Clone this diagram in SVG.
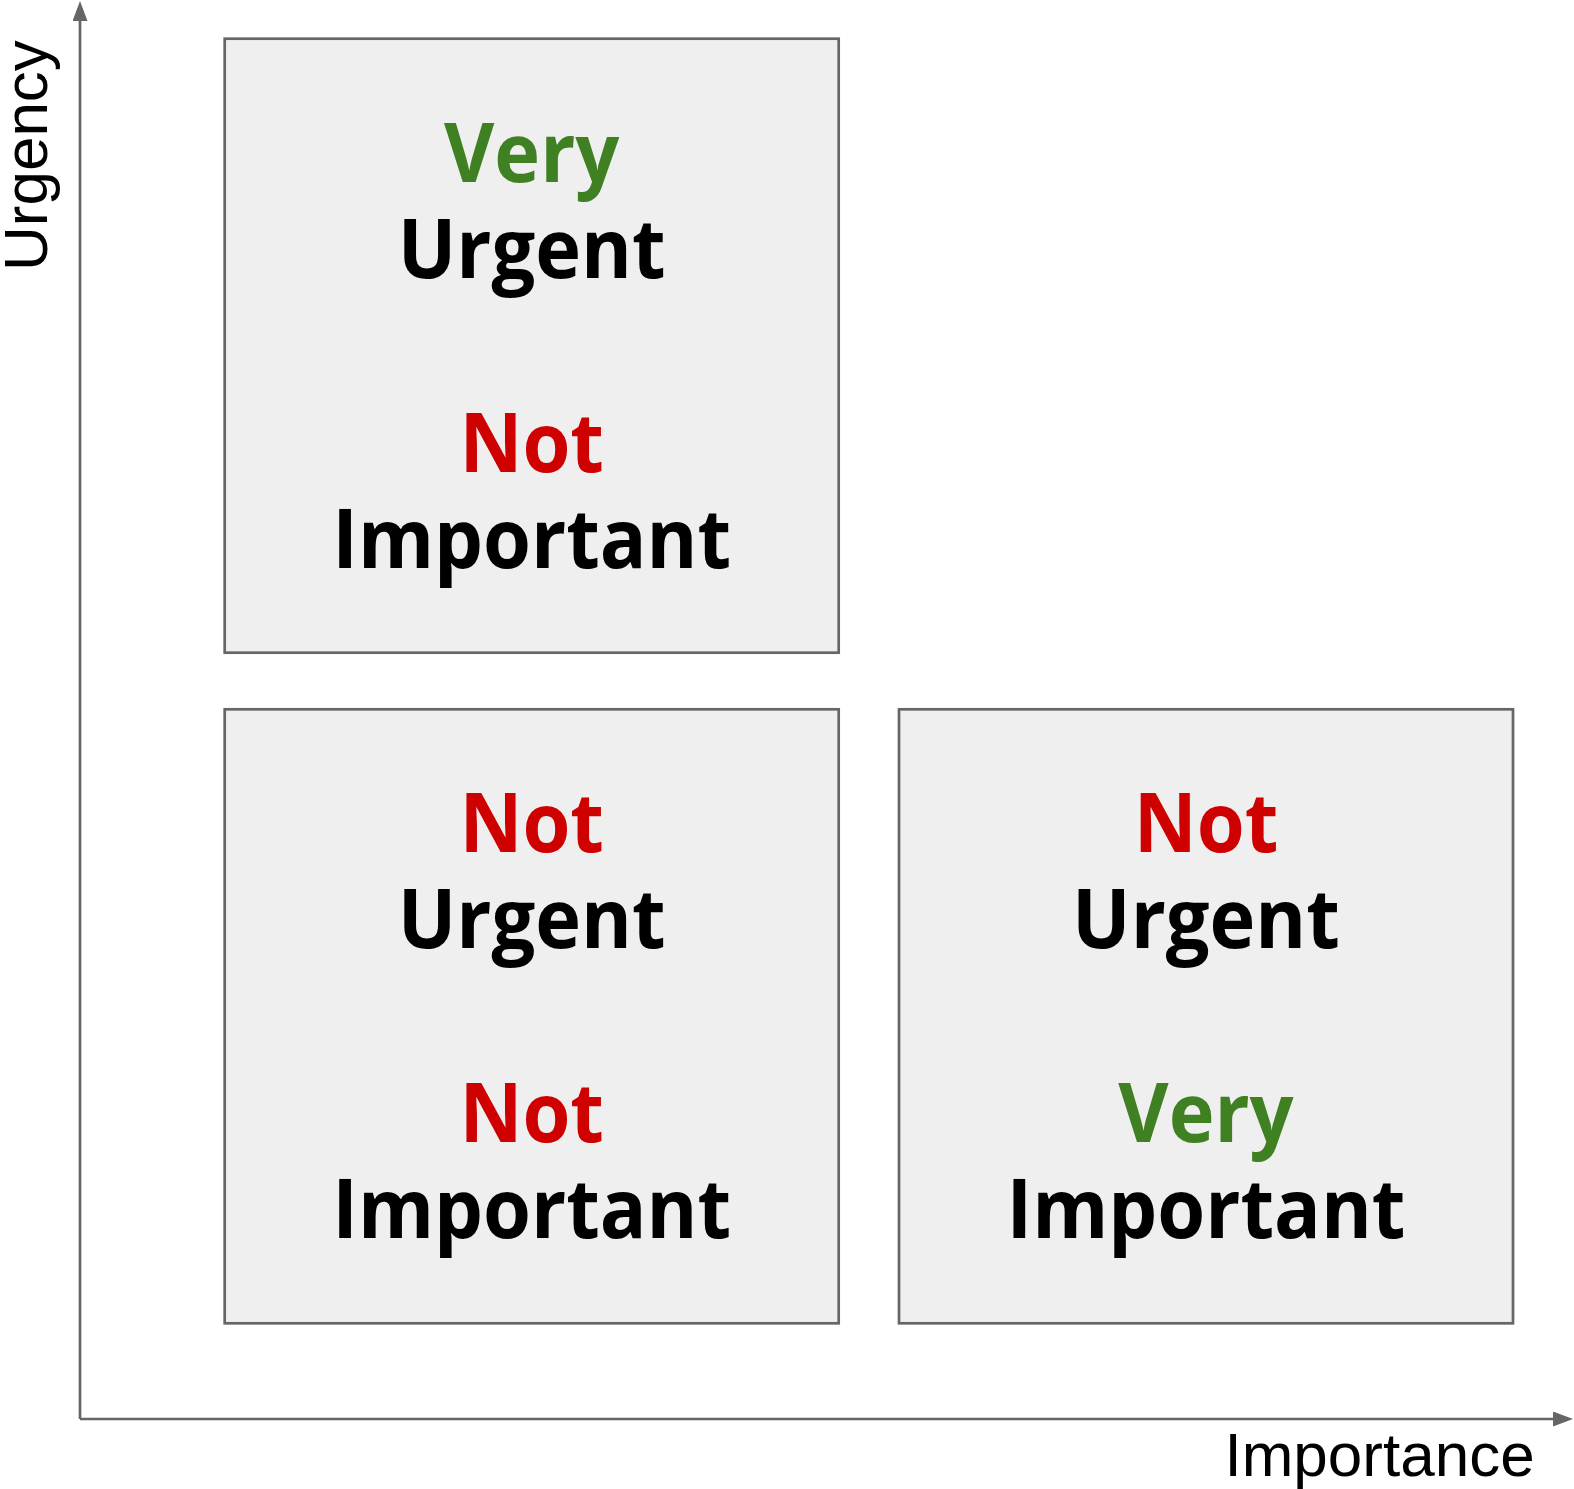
<svg xmlns="http://www.w3.org/2000/svg" width="1574" height="1489" viewBox="0 0 1574 1489">
  <style>
    .box { fill: #efefef; stroke: #666666; stroke-width: 2.7; }
    .axis { stroke: #666666; stroke-width: 2.7; fill: none; }
    .label { font-family: "Open Sans", "Noto Sans", sans-serif; font-weight: 700; font-size: 82px; text-anchor: middle; }
    .very { fill: #3f8022; }
    .not { fill: #cf0000; }
    .word { fill: #000000; }
    .axis-title { font-family: "Liberation Sans", Arial, sans-serif; font-size: 62px; fill: #000000; }
  </style>
  <defs>
    <marker id="arrow" markerUnits="userSpaceOnUse" markerWidth="20" markerHeight="15" refX="0" refY="7.5" orient="auto">
      <path d="M0,0 L20,7.5 L0,15 Z" fill="#666666"/>
    </marker>
  </defs>

  <rect width="1574" height="1489" fill="#ffffff"/>

  <!-- axes -->
  <g id="connectors">
    <line class="axis" x1="80" y1="1419" x2="80" y2="21" marker-end="url(#arrow)"/>
    <line class="axis" x1="80" y1="1419" x2="1553" y2="1419" marker-end="url(#arrow)"/>
  </g>

  <text id="urgency-axis" class="axis-title" transform="translate(46.5,271) rotate(-90)">Urgency</text>
  <text id="importance-axis" class="axis-title" x="1224.5" y="1476">Importance</text>

  <!-- quadrant: very urgent, not important -->
  <g id="urgent-not-important">
    <rect class="box" x="224.7" y="38.7" width="614" height="614"/>
    <g transform="translate(531.7 0) scale(0.945 1)">
      <text class="label very" x="0" y="181.7">Very</text>
      <text class="label word" x="0" y="278.3">Urgent</text>
      <text class="label not" x="0" y="471.7">Not</text>
      <text class="label word" x="0" y="568.3">Important</text>
    </g>
  </g>

  <!-- quadrant: not urgent, not important -->
  <g id="not-urgent-not-important">
    <rect class="box" x="224.7" y="709.3" width="614" height="614"/>
    <g transform="translate(531.7 0) scale(0.945 1)">
      <text class="label not" x="0" y="851.7">Not</text>
      <text class="label word" x="0" y="948.3">Urgent</text>
      <text class="label not" x="0" y="1141.7">Not</text>
      <text class="label word" x="0" y="1238.3">Important</text>
    </g>
  </g>

  <!-- quadrant: not urgent, very important -->
  <g id="not-urgent-important">
    <rect class="box" x="899" y="709.3" width="614" height="614"/>
    <g transform="translate(1206 0) scale(0.945 1)">
      <text class="label not" x="0" y="851.7">Not</text>
      <text class="label word" x="0" y="948.3">Urgent</text>
      <text class="label very" x="0" y="1141.7">Very</text>
      <text class="label word" x="0" y="1238.3">Important</text>
    </g>
  </g>
</svg>
